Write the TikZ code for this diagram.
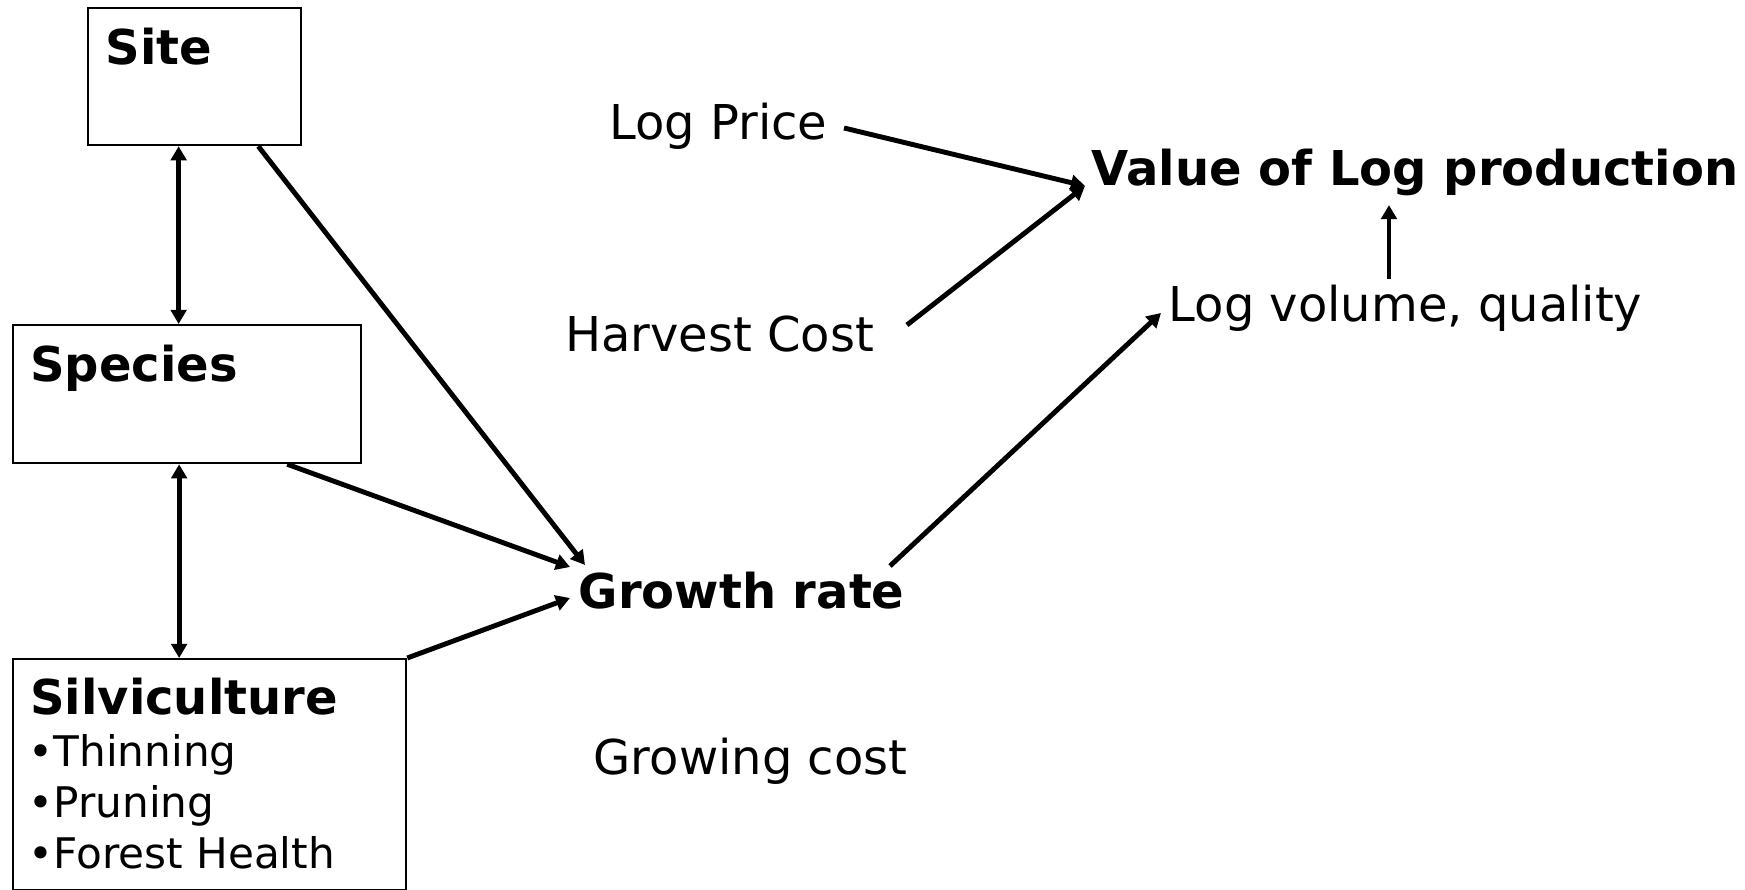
\documentclass[tikz,border=0pt]{standalone}
\usepackage{fontspec}
\setmainfont{DejaVu Sans}
\usepackage{tikz}
\usetikzlibrary{arrows.meta}
\tikzset{box/.style={draw, line width=0.65pt, anchor=north west, inner sep=0pt},
  lbl/.style={anchor=base west, inner sep=0pt},
  item/.style={anchor=base west, inner sep=0pt, font=\fontsize{12}{14}\selectfont},
  arr/.style={line width=1.4pt, -{Triangle[length=4pt,width=4.4pt]}},
  dbl/.style={line width=1.4pt, {Triangle[length=4pt,width=4.4pt]}-{Triangle[length=4pt,width=4.4pt]}}}

\begin{document}
\begin{tikzpicture}[font=\fontsize{13.66}{16}\selectfont]
\useasboundingbox (0,0) rectangle (17.45,-8.90);
% boxes on the left
\node[box, minimum width=2.13cm, minimum height=1.37cm] (site) at (0.87,-0.07){};
\node[box, minimum width=3.48cm, minimum height=1.38cm] (species) at (0.12,-3.24){};
\node[box, minimum width=3.93cm, minimum height=2.31cm] (silvi) at (0.12,-6.58){};
\node[lbl] (sitetxt) at (1.05,-0.65){\bfseries Site};
\node[lbl] (speciestxt) at (0.295,-3.82){\bfseries Species};
\node[lbl] (silvitxt) at (0.295,-7.15){\bfseries Silviculture};
\node[item] (thin) at (0.28,-7.67){•Thinning};
\node[item] (prune) at (0.28,-8.18){•Pruning};
\node[item] (health) at (0.28,-8.69){•Forest Health};
% free texts
\node[lbl] (logprice) at (6.085,-1.40){Log Price};
\node[lbl] (value) at (10.91,-1.86){\bfseries Value of Log production};
\node[lbl] (harvest) at (5.645,-3.52){Harvest Cost};
\node[lbl] (logvol) at (11.68,-3.22){Log volume, quality};
\node[lbl] (growth) at (5.78,-6.09){\bfseries Growth rate};
\node[lbl] (growcost) at (5.93,-7.75){Growing cost};
% connectors
\draw[dbl] ([xshift=-0.16cm]site.south) -- ([xshift=-0.16cm]site.south |- species.north);
\draw[dbl] ([xshift=-0.08cm]species.south) -- ([xshift=-0.08cm]species.south |- silvi.north);
\draw[arr] ([xshift=-0.44cm]site.south east) -- ([shift={(0.07,0.44)}]growth.base west);
\draw[arr] ([xshift=-0.75cm]species.south east) -- ([shift={(-0.08,0.42)}]growth.base west);
\draw[arr] (silvi.north east) -- ([shift={(-0.08,0.11)}]growth.base west);
\draw[arr] ([shift={(3.12,0.43)}]growth.base west) -- ([shift={(-0.07,0.09)}]logvol.base west);
\draw[arr] ([shift={(0.16,0.12)}]logprice.base east) -- ([shift={(-0.06,0.0)}]value.base west);
\draw[arr] ([shift={(0.32,0.27)}]harvest.base east) -- ([shift={(-0.06,0.0)}]value.base west);
\coordinate (voltop) at ([shift={(2.21,0.43)}]logvol.base west);
\draw[arr, shorten >=0.08cm] (voltop) -- (voltop |- value.south);
\end{tikzpicture}
\end{document}
